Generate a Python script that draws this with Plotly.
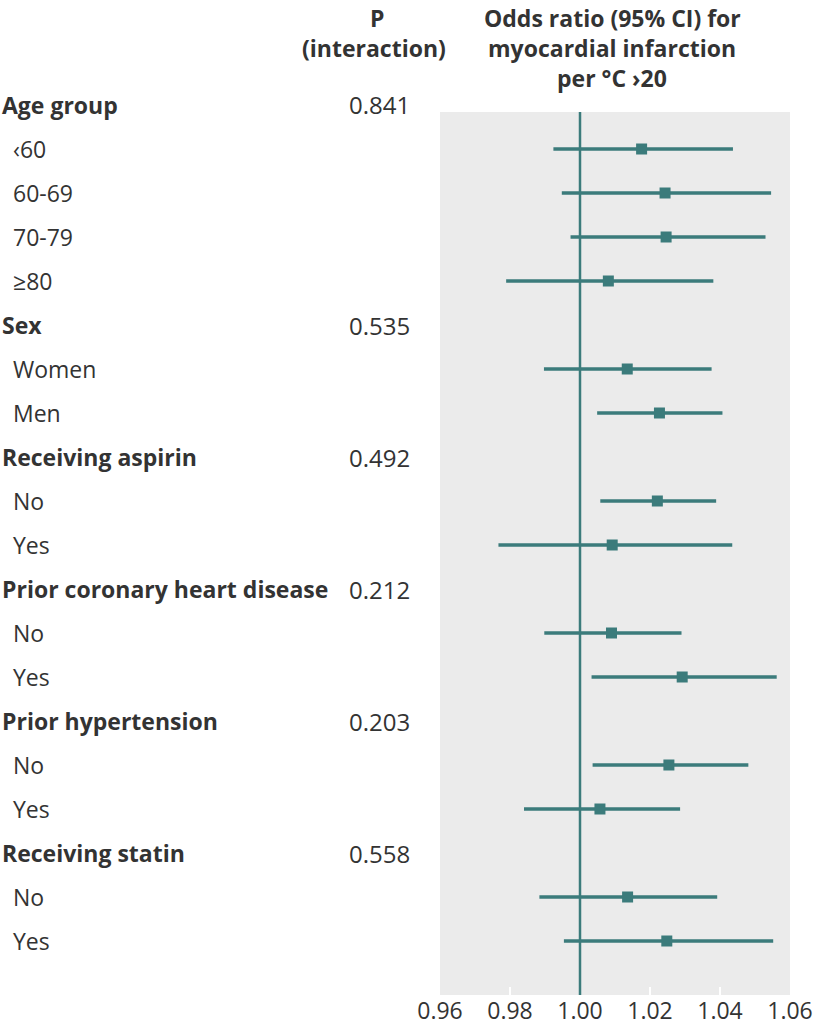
import plotly.graph_objects as go

labels = ["Age group", "‹60", "60-69", "70-79", "≥80",
          "Sex", "Women", "Men",
          "Receiving aspirin", "No", "Yes",
          "Prior coronary heart disease", "No", "Yes",
          "Prior hypertension", "No", "Yes",
          "Receiving statin", "No", "Yes"]
is_header = [True, False, False, False, False,
             True, False, False,
             True, False, False,
             True, False, False,
             True, False, False,
             True, False, False]
p_values = ["0.841", "", "", "", "",
            "0.535", "", "",
            "0.492", "", "",
            "0.212", "", "",
            "0.203", "", "",
            "0.558", "", ""]
odds = [None, 1.0176, 1.0243, 1.0246, 1.0081,
        None, 1.0135, 1.0227,
        None, 1.0221, 1.0092,
        None, 1.0090, 1.0292,
        None, 1.0254, 1.0057,
        None, 1.0136, 1.0248]
ci_low = [None, 0.9924, 0.9948, 0.9973, 0.9789,
          None, 0.9897, 1.0049,
          None, 1.0058, 0.9767,
          None, 0.9898, 1.0033,
          None, 1.0036, 0.9840,
          None, 0.9884, 0.9954]
ci_high = [None, 1.0437, 1.0546, 1.0530, 1.0381,
           None, 1.0376, 1.0407,
           None, 1.0389, 1.0435,
           None, 1.0290, 1.0562,
           None, 1.0481, 1.0286,
           None, 1.0392, 1.0552]
x_ticks = [0.96, 0.98, 1.00, 1.02, 1.04, 1.06]
x_tick_labels = ["0.96", "0.98", "1.00", "1.02", "1.04", "1.06"]

TEAL = "#3b7b7b"
BG = "#ebebeb"
TXT = "#333333"
FONT = "Open Sans"
HFONT = "Open Sans"

W, H = 820, 1032
ML, MR, MT, MB = 440, 30, 112, 37
plot_w = W - ML - MR
plot_h = H - MT - MB
Y_RANGE = [(995 - 105) / 44, (112 - 105) / 44]

rows = list(range(len(labels)))

fig = go.Figure()

# CI lines
ex, ey = [], []
for r, lo, hi in zip(rows, ci_low, ci_high):
    if lo is None:
        continue
    ex += [lo, hi, None]
    ey += [r, r, None]
fig.add_trace(go.Scatter(x=ex, y=ey, mode="lines",
                         line=dict(color=TEAL, width=3.5),
                         hoverinfo="skip", showlegend=False))

# reference line
fig.add_shape(type="line", x0=1.0, x1=1.0, y0=0, y1=1, yref="paper",
              xref="x", line=dict(color=TEAL, width=2.5), layer="above")

# point estimates
pr = [r for r, o in zip(rows, odds) if o is not None]
po = [o for o in odds if o is not None]
fig.add_trace(go.Scatter(x=po, y=pr, mode="markers",
                         marker=dict(symbol="square", size=11, color=TEAL),
                         showlegend=False))


def px_to_paper_x(px):
    return (px - ML) / plot_w


def px_to_paper_y(py):
    return (H - MB - py) / plot_h


def row_to_paper_y(r):
    return (Y_RANGE[0] - r) / (Y_RANGE[0] - Y_RANGE[1])


annotations = []
for r, lab, hdr, pv in zip(rows, labels, is_header, p_values):
    annotations.append(dict(
        x=px_to_paper_x(0 if hdr else 11), xref="paper",
        y=row_to_paper_y(r), yref="paper",
        text=f"<b>{lab}</b>" if hdr else lab, showarrow=False,
        xanchor="left", yanchor="middle",
        font=dict(family=FONT, size=23, color=TXT)))
    if pv:
        annotations.append(dict(
            x=px_to_paper_x(412), xref="paper", y=row_to_paper_y(r), yref="paper",
            text=pv, showarrow=False, xanchor="right", yanchor="middle",
            font=dict(family=FONT, size=24, color=TXT)))

headers = [("P", 377, 18), ("(interaction)", 374, 48),
           ("Odds ratio (95% CI) for", 612, 18),
           ("myocardial infarction", 612, 48),
           ("per °C ›20", 612, 78)]
for t, hx, hy in headers:
    annotations.append(dict(
        x=px_to_paper_x(hx), xref="paper", y=px_to_paper_y(hy), yref="paper",
        text=f"<b>{t}</b>", showarrow=False, xanchor="center",
        yanchor="middle", font=dict(family=HFONT, size=23, color=TXT)))

fig.update_layout(
    width=W, height=H,
    margin=dict(l=ML, r=MR, t=MT, b=MB, autoexpand=False),
    paper_bgcolor="white", plot_bgcolor=BG,
    annotations=annotations,
    font=dict(family=FONT, color=TXT),
)
fig.update_xaxes(range=[0.96, 1.06], tickvals=x_ticks, ticktext=x_tick_labels,
                 showgrid=False, zeroline=False, showline=False,
                 ticks="inside", ticklen=8, tickwidth=2, tickcolor="white",
                 automargin=False,
                 tickfont=dict(family=FONT, size=23, color=TXT))
fig.update_yaxes(range=Y_RANGE, automargin=False,
                 showgrid=False, zeroline=False, showticklabels=False,
                 showline=False)

fig.write_html("out.html", config={"displayModeBar": False},
               post_script="document.body.style.margin='0';document.body.style.padding='0';")
